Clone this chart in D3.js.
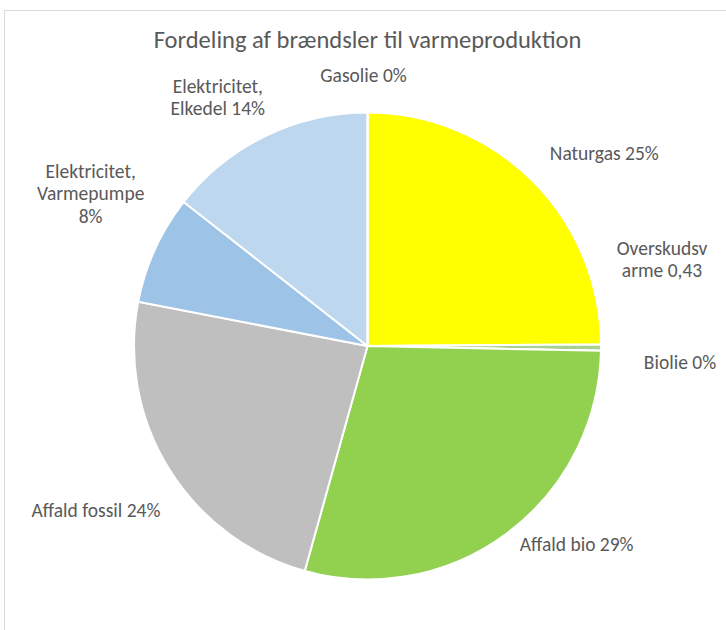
<!DOCTYPE html>
<html>
<head>
<meta charset="utf-8">
<script src="https://cdn.jsdelivr.net/npm/d3@7"></script>
<style>
  body { margin: 0; background: #fff; }
  text { font-family: Carlito, Lato, "Open Sans", sans-serif; fill: #595959; }
</style>
</head>
<body>
<div id="chart"></div>
<script>
// data (order = clockwise from 12 o'clock)
const categories = ["Naturgas", "Overskudsvarme", "Biolie", "Affald bio", "Affald fossil",
                    "Elektricitet, Varmepumpe", "Elektricitet, Elkedel", "Gasolie"];
const shares = [24.9, 0.43, 0, 29.0, 23.7, 7.55, 14.42, 0];
const labelLines = [
  ["Naturgas 25%"],
  ["Overskudsv", "arme 0,43"],
  ["Biolie 0%"],
  ["Affald bio 29%"],
  ["Affald fossil 24%"],
  ["Elektricitet,", "Varmepumpe", "8%"],
  ["Elektricitet,", "Elkedel 14%"],
  ["Gasolie 0%"]
];
const colors = ["#FFFF00", "#A9D18E", "#70AD47", "#92D050", "#BFBFBF", "#9DC3E6", "#BDD7EE", "#8FAADC"];

// layout
const W = 726, H = 630;
const cx = 367.5, cy = 346, r = 233.5;
const labelR = r + 40;
// hand nudges so labels sit where Excel put them
const nudge = [[44, 1], [21, -89], [39, 11], [46, -21], [-39, 20], [-28, -39], [-30, -3], [-4, 3]];

const svg = d3.select("#chart").append("svg")
  .attr("width", W).attr("height", H);

// chart area border
svg.append("rect")
  .attr("x", 4.5).attr("y", 10.5)
  .attr("width", W).attr("height", H)
  .attr("fill", "none").attr("stroke", "#D9D9D9").attr("stroke-width", 1);

svg.append("text")
  .attr("x", cx).attr("y", 48)
  .attr("text-anchor", "middle")
  .style("font-size", "24.5px")
  .text("Fordeling af brændsler til varmeproduktion");

const pie = d3.pie().sort(null).value(d => d);
const arcs = pie(shares);
const arc = d3.arc().innerRadius(0).outerRadius(r);

const g = svg.append("g").attr("transform", `translate(${cx},${cy})`);

g.selectAll("path.slice")
  .data(arcs)
  .enter().append("path")
  .attr("class", "slice")
  .attr("d", arc)
  .attr("fill", (d, i) => colors[i])
  .attr("stroke", "#fff")
  .attr("stroke-width", 2)
  .attr("stroke-linejoin", "round");

const lineH = 22.5;
const lbl = g.selectAll("text.lbl")
  .data(arcs)
  .enter().append("text")
  .attr("class", "lbl")
  .attr("text-anchor", "middle")
  .style("font-size", "19.5px")
  .attr("transform", (d, i) => {
    const a = (d.startAngle + d.endAngle) / 2;
    const x = Math.sin(a) * labelR + nudge[i][0];
    const y = -Math.cos(a) * labelR + nudge[i][1];
    return `translate(${x},${y})`;
  });

lbl.each(function(d, i) {
  const lines = labelLines[i];
  const t = d3.select(this);
  lines.forEach((s, k) => {
    t.append("tspan")
      .attr("x", 0)
      .attr("y", (k - (lines.length - 1) / 2) * lineH)
      .attr("dy", "0.35em")
      .text(s);
  });
});
</script>
</body>
</html>
